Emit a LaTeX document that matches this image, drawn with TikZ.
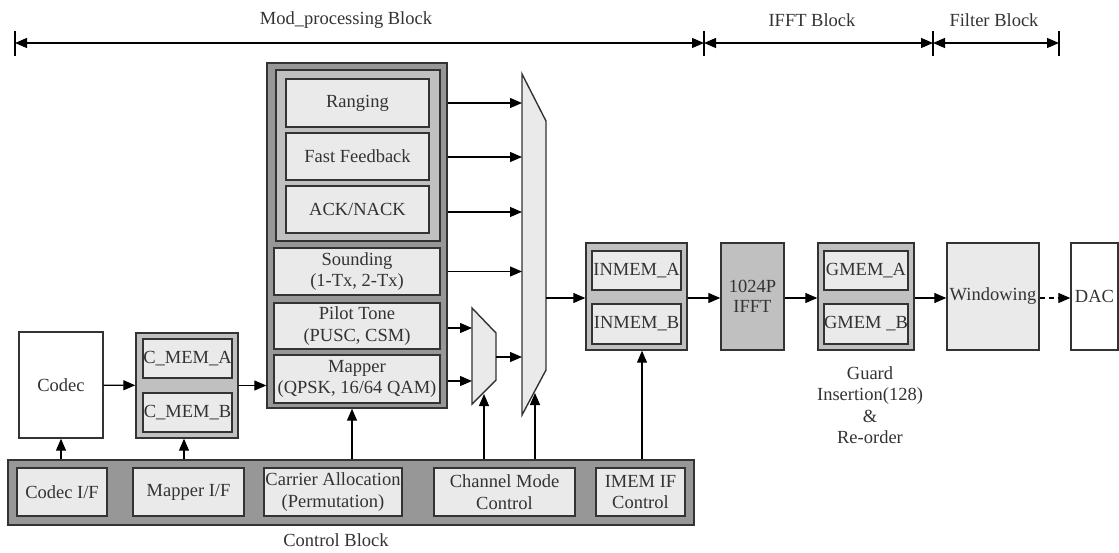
\documentclass[tikz,border=0pt]{standalone}
\usepackage{fontspec}
\setmainfont{Liberation Serif}
\usetikzlibrary{arrows.meta}
\definecolor{dk}{HTML}{979797}
\definecolor{md}{HTML}{C0C0C0}
\definecolor{lt}{HTML}{EAEAEA}
\definecolor{ln}{HTML}{333333}
\begin{document}
\begin{tikzpicture}[x=1pt,y=-1pt,
  font=\fontsize{18.5}{21.5}\selectfont,
  bx/.style={draw=ln, line width=1.4pt, inner sep=0pt, align=center, text=ln},
  dkbox/.style={bx, fill=dk},
  mdbox/.style={bx, fill=md},
  ltbox/.style={bx, fill=lt},
  whbox/.style={bx, fill=white},
  wh/.style args={#1x#2}{minimum width=#1pt, minimum height=#2pt},
  arr/.style={-{Triangle[length=12pt,width=10pt]}, line width=1.2pt},
  dimarr/.style={{Triangle[length=12pt,width=10pt]}-{Triangle[length=12pt,width=10pt]}, line width=1.2pt},
  lbl/.style={text=ln, align=center, inner sep=0pt},
  mux/.style={draw=ln, line width=1.4pt, fill=lt},
]
\useasboundingbox (0,0) rectangle (1119,552);

% dimension line
\coordinate (t1) at (15,43);
\coordinate (t2) at (704,43);
\coordinate (t3) at (933,43);
\coordinate (t4) at (1059,43);
\foreach \t in {t1,t2,t3,t4}{\draw[line width=1.2pt] ([yshift=12pt]\t) -- ([yshift=-13pt]\t);}
\draw[dimarr] (t1) -- (t2);
\draw[dimarr] (t2) -- (t3);
\draw[dimarr] (t3) -- (t4);
\node[lbl] (lmod) at (346,20) {Mod\_processing Block};
\node[lbl] (lifft) at (812,20) {IFFT Block};
\node[lbl] (lfil) at (994,20) {Filter Block};

% codec and C_MEM
\node[whbox, wh=84x106] (codec) at (61,385) {Codec};
\node[mdbox, wh=102x105] (cmem) at (187,385.5) {};
\node[ltbox, wh=89x39] (cmema) at (187.5,358.5) {C\_MEM\_A};
\node[ltbox, wh=89x39] (cmemb) at (187.5,412.5) {C\_MEM\_B};

% big group
\node[dkbox, wh=180x345] (grp) at (357,235.5) {};
\node[mdbox, wh=164x171] (grpin) at (358,155.5) {};
\node[ltbox, wh=143x48] (rng) at (357.5,103) {Ranging};
\node[ltbox, wh=143x47] (ff) at (357.5,156.5) {Fast Feedback};
\node[ltbox, wh=143x47] (ack) at (357.5,209.5) {ACK/NACK};
\node[ltbox, wh=166x47] (snd) at (357,271.5) {Sounding\\(1-Tx, 2-Tx)};
\node[ltbox, wh=166x46] (plt) at (357,326) {Pilot Tone\\(PUSC, CSM)};
\node[ltbox, wh=166x48] (map) at (357,379) {Mapper\\(QPSK, 16/64 QAM)};

% muxes
\coordinate (bm1) at (522,74);
\coordinate (bm2) at (546,121);
\coordinate (bm3) at (546,370);
\coordinate (bm4) at (522,415);
\draw[mux] (bm1) -- (bm2) -- (bm3) -- (bm4) -- cycle;
\coordinate (sm1) at (472,308);
\coordinate (sm2) at (496,333);
\coordinate (sm3) at (496,380);
\coordinate (sm4) at (472,404);
\draw[mux] (sm1) -- (sm2) -- (sm3) -- (sm4) -- cycle;
\coordinate (smout) at (496,357);
\coordinate (bmout) at (546,298);
\coordinate (smbot) at (484,394);
\coordinate (bmbot) at (535,393);

\draw[arr] (rng.east -| grp.east) -- (rng.east -| bm1);
\draw[arr] ([yshift=-0.5pt]ff.east -| grp.east) -- ([yshift=-0.5pt]ff.east -| bm1);
\draw[arr] ([yshift=-2.5pt]ack.east -| grp.east) -- ([yshift=-2.5pt]ack.east -| bm1);
\draw[arr] (snd.east -| grp.east) -- (snd.east -| bm1);
\draw[arr] ([yshift=-2pt]plt.east -| grp.east) -- ([yshift=-2pt]plt.east -| sm1);
\draw[arr] ([yshift=-2pt]map.east -| grp.east) -- ([yshift=-2pt]map.east -| sm1);
\draw[arr] (smout) -- (smout -| bm1);
\draw[arr] (codec) -- (cmem);
\draw[arr] (cmem.east) -- (cmem.east -| grp.west);

% INMEM, IFFT, GMEM, Windowing, DAC
\node[mdbox, wh=101x107] (inmem) at (636.5,296.5) {};
\node[ltbox, wh=89x39] (inmema) at (636.5,270.5) {INMEM\_A};
\node[ltbox, wh=89x40] (inmemb) at (636.5,324) {INMEM\_B};
\node[mdbox, wh=63x107] (ifft) at (752.5,296.5) {1024P\\[-2pt]IFFT};
\node[mdbox, wh=96x107] (gmem) at (866,296.5) {};
\node[ltbox, wh=84x39] (gmema) at (866,270.5) {GMEM\_A};
\node[ltbox, wh=84x40] (gmemb) at (866,324) {GMEM \_B};
\node[ltbox, wh=92x107] (win) at (993,296.5) {Windowing};
\node[whbox, wh=47x107] (dac) at (1094.5,296.5) {DAC};
\node[lbl] (guard) at (870,405) {Guard\\Insertion(128)\\\&\\Re-order};

\draw[arr] (bmout) -- (bmout -| inmem.west);
\draw[arr] (inmem.east |- bmout) -- (ifft.west |- bmout);
\draw[arr] (ifft.east |- bmout) -- (gmem.west |- bmout);
\draw[arr] (gmem.east |- bmout) -- (win.west |- bmout);
\draw[arr, dash pattern=on 5pt off 4pt] (win.east |- bmout) -- (dac.west |- bmout);

% control block
\node[dkbox, wh=686x65] (ctrl) at (351,492.5) {};
\node[ltbox, wh=90x48] (cif) at (62,492) {Codec I/F};
\node[ltbox, wh=111x48] (mif) at (188.5,492) {Mapper I/F};
\node[ltbox, wh=138x48] (car) at (333,492) {Carrier Allocation\\(Permutation)};
\node[ltbox, wh=141x48] (chm) at (504.5,492) {Channel Mode\\Control};
\node[ltbox, wh=89x48] (imf) at (640.5,492) {IMEM IF\\Control};
\node[lbl] (lctrl) at (336,540) {Control Block};

\draw[arr] (codec.south |- ctrl.north) -- (codec.south);
\draw[arr] ([xshift=-3pt]cmem.south |- ctrl.north) -- ([xshift=-3pt]cmem.south);
\draw[arr] (352,0 |- ctrl.north) -- (352,0 |- grp.south);
\draw[arr] (smbot |- ctrl.north) -- (smbot);
\draw[arr] (bmbot |- ctrl.north) -- (bmbot);
\draw[arr] ([xshift=5.5pt]inmem.south |- ctrl.north) -- ([xshift=5.5pt]inmem.south);
\end{tikzpicture}
\end{document}
